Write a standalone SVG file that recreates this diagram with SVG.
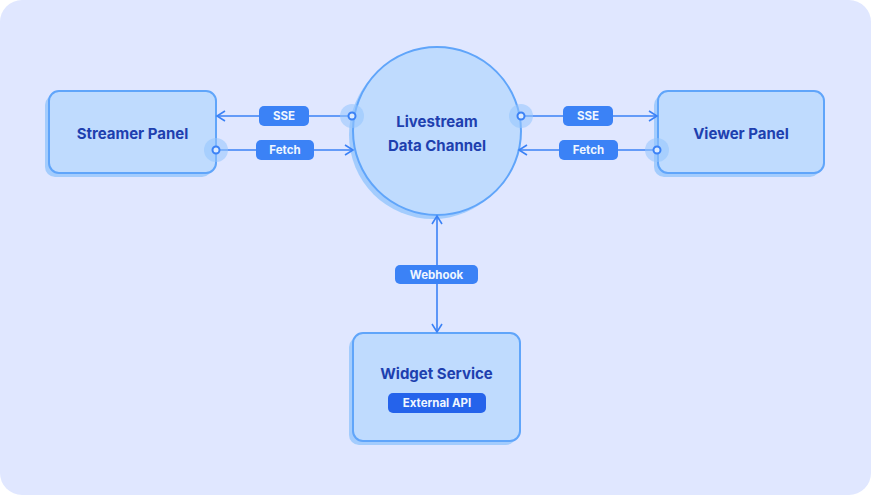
<svg xmlns="http://www.w3.org/2000/svg" width="871" height="495" viewBox="0 0 871 495">
<defs>
<style>
.node{fill:#bfdbfe;stroke:#60a5fa;stroke-width:2}
.shadow{fill:#93c5fd;opacity:0.8}
.title{font-family:Inter,"Liberation Sans",sans-serif;font-weight:700;font-size:15px;fill:#1e40af;text-anchor:middle}
.pill{fill:#3b82f6}
.pilltext{font-family:Inter,"Liberation Sans",sans-serif;font-weight:700;font-size:11.5px;fill:#eff6ff;text-anchor:middle}
.edge{stroke:#3b82f6;stroke-width:1.6;fill:none}
.halo{fill:#93c5fd;opacity:0.55}
.dot{fill:#dbeafe;stroke:#3b82f6;stroke-width:2}
</style>
<marker id="arrow" viewBox="0 0 12 12" refX="10" refY="6" markerWidth="12" markerHeight="12" markerUnits="userSpaceOnUse" orient="auto-start-reverse">
<path d="M2,1 L10,6 L2,11" fill="none" stroke="#3b82f6" stroke-width="1.6"/>
</marker>
</defs>
<rect x="0" y="0" width="871" height="495" rx="22" fill="#e0e7ff"/>

<g id="streamer-panel">
<rect class="shadow" x="45" y="95" width="167" height="82" rx="10"/>
<rect class="node" x="49" y="91" width="167" height="82" rx="10"/>
<text class="title" x="132.5" y="138.5">Streamer Panel</text>
</g>

<g id="viewer-panel">
<rect class="shadow" x="654" y="95" width="166" height="82" rx="10"/>
<rect class="node" x="658" y="91" width="166" height="82" rx="10"/>
<text class="title" x="741" y="138.5">Viewer Panel</text>
</g>

<g id="livestream-data-channel">
<circle class="shadow" cx="433" cy="135" r="84"/>
<circle class="node" cx="437" cy="131" r="84"/>
<text class="title" x="437" y="127">Livestream</text>
<text class="title" x="437" y="151">Data Channel</text>
</g>

<g id="widget-service">
<rect class="shadow" x="349" y="337" width="167" height="108" rx="10"/>
<rect class="node" x="353" y="333" width="167" height="108" rx="10"/>
<text class="title" x="436.5" y="378.5">Widget Service</text>
<rect x="388" y="393" width="98" height="20" rx="5" fill="#2563eb"/>
<text class="pilltext" x="437" y="407">External API</text>
</g>

<g id="connectors">
<!-- Streamer SSE: channel -> streamer -->
<line class="edge" x1="352" y1="116" x2="217" y2="116" marker-end="url(#arrow)"/>
<circle class="halo" cx="352" cy="116" r="12"/>
<circle class="dot" cx="352" cy="116" r="3.5"/>
<rect class="pill" x="259" y="106" width="50" height="20" rx="5"/>
<text class="pilltext" x="284" y="120">SSE</text>

<!-- Streamer Fetch: streamer -> channel -->
<line class="edge" x1="216" y1="150" x2="353" y2="150" marker-end="url(#arrow)"/>
<circle class="halo" cx="216" cy="150" r="12"/>
<circle class="dot" cx="216" cy="150" r="3.5"/>
<rect class="pill" x="256" y="140" width="58" height="20" rx="5"/>
<text class="pilltext" x="285" y="154">Fetch</text>

<!-- Viewer SSE: channel -> viewer -->
<line class="edge" x1="521" y1="116" x2="657" y2="116" marker-end="url(#arrow)"/>
<circle class="halo" cx="521" cy="116" r="12"/>
<circle class="dot" cx="521" cy="116" r="3.5"/>
<rect class="pill" x="563" y="106" width="50" height="20" rx="5"/>
<text class="pilltext" x="588" y="120">SSE</text>

<!-- Viewer Fetch: viewer -> channel -->
<line class="edge" x1="657" y1="150" x2="519" y2="150" marker-end="url(#arrow)"/>
<circle class="halo" cx="657" cy="150" r="12"/>
<circle class="dot" cx="657" cy="150" r="3.5"/>
<rect class="pill" x="559" y="140" width="59" height="20" rx="5"/>
<text class="pilltext" x="588.5" y="154">Fetch</text>

<!-- Webhook: bidirectional -->
<line class="edge" x1="437" y1="216" x2="437" y2="332" marker-start="url(#arrow)" marker-end="url(#arrow)"/>
<rect class="pill" x="395" y="265" width="83" height="19" rx="5"/>
<text class="pilltext" x="436.5" y="278.5">Webhook</text>
</g>
</svg>
